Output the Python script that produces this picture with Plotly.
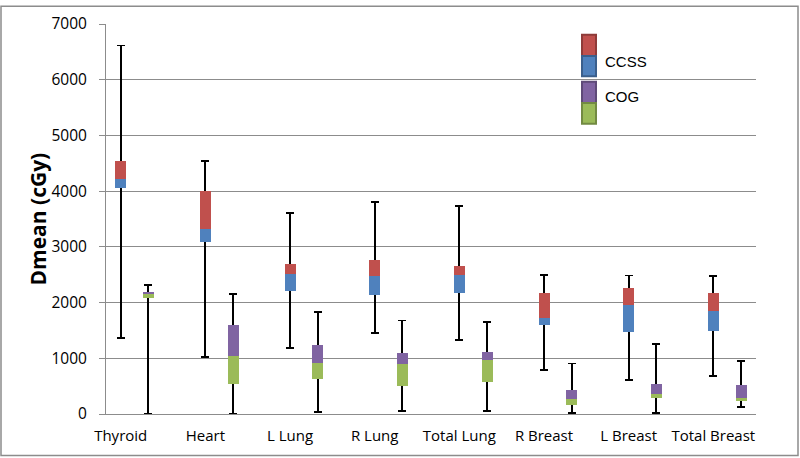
import plotly.graph_objects as go

categories = ["Thyroid", "Heart", "L Lung", "R Lung", "Total Lung", "R Breast", "L Breast", "Total Breast"]

ccss_min = [1370, 1030, 1190, 1460, 1330, 790, 610, 680]
ccss_q1 = [4060, 3095, 2215, 2140, 2180, 1600, 1465, 1490]
ccss_med = [4210, 3325, 2510, 2480, 2495, 1720, 1965, 1845]
ccss_q3 = [4550, 3995, 2690, 2770, 2665, 2165, 2255, 2165]
ccss_max = [6615, 4540, 3605, 3810, 3735, 2495, 2485, 2475]

cog_min = [0, 10, 30, 60, 60, 20, 20, 125]
cog_q1 = [2085, 545, 625, 510, 575, 170, 290, 225]
cog_med = [2160, 1035, 915, 890, 975, 265, 355, 295]
cog_q3 = [2190, 1605, 1230, 1100, 1105, 430, 540, 515]
cog_max = [2310, 2155, 1835, 1680, 1645, 905, 1255, 945]

RED, BLUE, PURPLE, GREEN = "#C0504D", "#4F81BD", "#8064A2", "#9BBB59"
GRID = "#8C8C8C"
FONT = "Open Sans"

W, H = 800, 458
ML, MR, MT, MB = 106, 44, 19, 44
PW, PH = W - ML - MR, H - MT - MB

def px(x):
    return (x - ML) / PW

def py(y):
    return (H - MB - y) / PH

n = len(categories)
x_ccss = [i for i in range(n)]
x_cog = [i + 0.327 for i in range(n)]
bw = 0.13

fig = go.Figure()

def add_group(xs, mn, q1, med, q3, mx, lo_col, hi_col, name):
    fig.add_trace(go.Bar(
        x=xs, y=q1, width=bw, marker=dict(color="rgba(0,0,0,0)", line=dict(width=0)),
        showlegend=False, hoverinfo="skip",
        error_y=dict(type="data", symmetric=False,
                     array=[b - a for a, b in zip(q1, mx)],
                     arrayminus=[a - b for a, b in zip(q1, mn)],
                     color="#000000", thickness=1.8, width=4)))
    fig.add_trace(go.Bar(
        x=xs, y=[b - a for a, b in zip(q1, med)], width=bw,
        marker=dict(color=lo_col, line=dict(width=0)), showlegend=False, name=name))
    fig.add_trace(go.Bar(
        x=xs, y=[b - a for a, b in zip(med, q3)], width=bw,
        marker=dict(color=hi_col, line=dict(width=0)), showlegend=False, name=name))

add_group(x_ccss, ccss_min, ccss_q1, ccss_med, ccss_q3, ccss_max, BLUE, RED, "CCSS")
add_group(x_cog, cog_min, cog_q1, cog_med, cog_q3, cog_max, GREEN, PURPLE, "COG")

x0 = (ML - 120.7) / 84.66
x1 = (W - MR - 120.7) / 84.66

shapes = []
# chart border
shapes.append(dict(type="rect", xref="paper", yref="paper",
                   x0=px(1), x1=px(798), y0=py(456), y1=py(1),
                   line=dict(color="#8C8C8C", width=1.5), fillcolor="rgba(0,0,0,0)"))
# legend keys
def key(y0, y1, fill, border):
    shapes.append(dict(type="rect", xref="paper", yref="paper",
                       x0=px(582), x1=px(596), y0=py(y1), y1=py(y0),
                       line=dict(color=border, width=2), fillcolor=fill))

key(30, 51.5, RED, "#8E3B39")
key(51.5, 72, BLUE, "#3A5F8C")
key(77.5, 99, PURPLE, "#5E4A78")
key(99, 120, GREEN, "#728A42")

annotations = [
    dict(text="CCSS", x=px(603), y=py(57), xref="paper", yref="paper",
         xanchor="left", yanchor="middle", showarrow=False,
         font=dict(family="Liberation Sans", size=15, color="#000000")),
    dict(text="COG", x=px(603), y=py(92), xref="paper", yref="paper",
         xanchor="left", yanchor="middle", showarrow=False,
         font=dict(family="Liberation Sans", size=15, color="#000000")),
    dict(text="<b>Dmean (cGy)</b>", x=px(38), y=py(217), xref="paper", yref="paper",
         xanchor="center", yanchor="middle", showarrow=False, textangle=-90,
         font=dict(family=FONT, size=21, color="#000000")),
]

fig.update_layout(
    width=W, height=H, barmode="stack",
    margin=dict(l=ML, r=MR, t=MT, b=MB, pad=0),
    paper_bgcolor="white", plot_bgcolor="white",
    showlegend=False, shapes=shapes, annotations=annotations,
    font=dict(family=FONT, size=15, color="#000000"),
    xaxis=dict(range=[x0, x1], tickmode="array", tickvals=x_ccss, ticktext=categories,
               showgrid=False, zeroline=False, showline=True, linecolor=GRID, linewidth=1,
               ticks="", ticklabelstandoff=8, tickfont=dict(family=FONT, size=15)),
    yaxis=dict(range=[0, 7000], dtick=1000, showgrid=True, gridcolor=GRID, gridwidth=1,
               zeroline=False, showline=True, linecolor=GRID, linewidth=1,
               ticks="outside", ticklen=6, tickcolor=GRID, ticklabelstandoff=9,
               tickfont=dict(family=FONT, size=15.5)),
)

fig.write_html("out.html", config={"displayModeBar": False},
               post_script="document.body.style.margin='0';document.body.style.overflow='hidden';")
